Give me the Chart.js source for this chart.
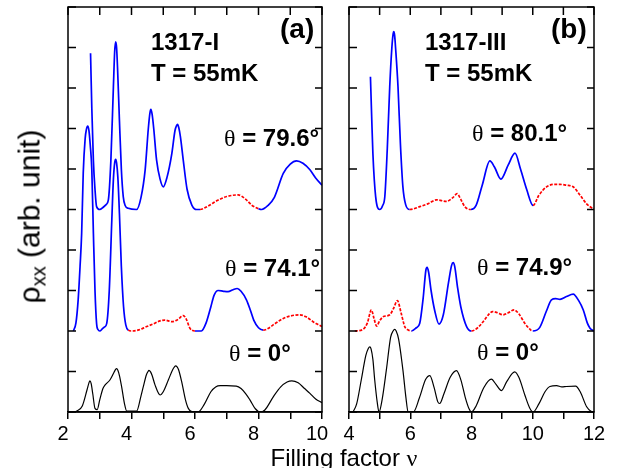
<!DOCTYPE html>
<html>
<head>
<meta charset="utf-8">
<script src="https://cdn.jsdelivr.net/npm/chart.js@4/dist/chart.umd.min.js"></script>
<style>
  body { margin: 0; background: #fff; }
  #wrap { position: relative; width: 618px; height: 468px; overflow: hidden; background: #fff; }
  canvas { position: absolute; top: 0; }
  .lbl { position: absolute; white-space: nowrap; font-family: "Liberation Sans", Arial, sans-serif; color: #000; line-height: 1; }
  .b { font-weight: bold; }
  .th { font-family: "Liberation Serif", "Times New Roman", serif; font-weight: normal; }
</style>
</head>
<body>
<div id="wrap">
  <canvas id="panelA" width="340" height="468" style="left:0"></canvas>
  <canvas id="panelB" width="298" height="468" style="left:320px"></canvas>
</div>
<script>
// panel (a), sample 1317-I
const nuA0 = [2.17, 2.27, 2.45, 2.6, 2.66, 2.69, 2.73, 2.78, 2.85, 2.92, 3.0, 3.1, 3.17, 3.32, 3.45, 3.5, 3.53, 3.57, 3.62, 3.69, 3.78, 3.85, 4.16, 4.3, 4.37, 4.47, 4.52, 4.55, 4.6, 4.65, 4.74, 4.9, 5.0, 5.16, 5.3, 5.36, 5.39, 5.43, 5.48, 5.58, 5.7, 5.79, 5.95, 6.1, 6.3, 6.5, 6.65, 6.8, 7.0, 7.3, 7.45, 7.6, 7.73, 7.9, 8.05, 8.2, 8.47, 8.7, 8.9, 9.05, 9.25, 9.45, 9.62, 9.8, 10.0];
const rhoA0 = [0, 0.02, 0.15, 0.55, 0.72, 0.77, 0.7, 0.45, 0.09, 0.06, 0.3, 0.58, 0.67, 0.79, 0.98, 1.05, 1.07, 1.03, 0.9, 0.62, 0.2, 0.02, 0.02, 0.4, 0.62, 0.92, 1.0, 1.03, 0.99, 0.9, 0.67, 0.42, 0.5, 0.79, 1.05, 1.12, 1.14, 1.12, 1.05, 0.75, 0.3, 0.09, 0, 0, 0.2, 0.5, 0.62, 0.65, 0.65, 0.64, 0.58, 0.45, 0.3, 0.08, 0, 0.05, 0.38, 0.62, 0.74, 0.77, 0.72, 0.58, 0.46, 0.32, 0.23];

const nuA74 = [2.17, 2.25, 2.32, 2.38, 2.43, 2.48, 2.54, 2.58, 2.62, 2.66, 2.7, 2.75, 2.8, 2.85, 2.9, 2.95, 3.0, 3.08, 3.15, 3.22, 3.3, 3.38, 3.43, 3.47, 3.5, 3.53, 3.57, 3.62, 3.68, 3.75, 3.82, 3.9, 4.0, 4.2, 4.48, 4.7, 4.9, 5.05, 5.27, 5.45, 5.63, 5.72, 5.84, 6.0, 6.2, 6.35, 6.5, 6.6, 6.73, 6.9, 7.04, 7.2, 7.33, 7.45, 7.62, 7.75, 7.85, 8.0, 8.15, 8.25, 8.5, 8.78, 9.0, 9.3, 9.5, 9.72, 9.85, 10.0];
const rhoA74 = [2.0, 2.2, 2.77, 3.6, 4.41, 5.9, 6.75, 6.98, 7.06, 6.95, 6.6, 5.98, 4.41, 3.0, 2.19, 2.03, 2.0, 2.05, 2.1, 2.19, 3.0, 4.74, 5.75, 6.15, 6.24, 6.15, 5.8, 4.9, 3.6, 2.6, 2.15, 2.02, 2.0, 2.02, 2.11, 2.18, 2.25, 2.27, 2.23, 2.28, 2.38, 2.3, 2.07, 2.0, 2.0, 2.2, 2.6, 2.88, 3.0, 2.98, 2.97, 3.02, 3.05, 2.98, 2.77, 2.5, 2.27, 2.08, 2.02, 2.04, 2.17, 2.31, 2.37, 2.4, 2.35, 2.23, 2.17, 2.11];
const redA74 = [[3.95, 6.05], [8.2, 10.0]];

const nuA79 = [2.71, 2.75, 2.8, 2.85, 2.9, 3.0, 3.1, 3.2, 3.27, 3.35, 3.43, 3.47, 3.5, 3.53, 3.56, 3.62, 3.68, 3.74, 3.8, 3.9, 4.16, 4.3, 4.43, 4.53, 4.58, 4.61, 4.65, 4.7, 4.79, 4.9, 5.0, 5.12, 5.27, 5.37, 5.42, 5.45, 5.49, 5.54, 5.63, 5.75, 5.9, 6.05, 6.16, 6.4, 6.7, 7.0, 7.36, 7.6, 7.8, 8.0, 8.1, 8.3, 8.5, 8.78, 9.0, 9.2, 9.4, 9.62, 9.8, 10.0];
const rhoA79 = [8.86, 7.5, 6.2, 5.5, 5.07, 5.0, 5.05, 5.12, 5.23, 6.2, 8.03, 8.9, 9.14, 9.0, 8.5, 7.2, 6.0, 5.32, 5.1, 5.03, 5.0, 5.3, 5.98, 7.0, 7.38, 7.47, 7.35, 7.0, 6.22, 5.75, 5.56, 5.8, 6.38, 6.95, 7.07, 7.1, 7.02, 6.8, 6.22, 5.5, 5.11, 5.0, 5.0, 5.08, 5.22, 5.32, 5.36, 5.25, 5.1, 5.02, 5.0, 5.1, 5.3, 5.89, 6.12, 6.2, 6.14, 5.98, 5.78, 5.6];
const redA79 = [[6.12, 8.04]];

// panel (b), sample 1317-III
const nuB0 = [4.13, 4.25, 4.4, 4.55, 4.63, 4.68, 4.72, 4.78, 4.84, 4.92, 4.98, 5.08, 5.22, 5.36, 5.44, 5.49, 5.54, 5.62, 5.76, 5.86, 5.93, 6.1, 6.3, 6.5, 6.64, 6.78, 6.9, 6.96, 7.1, 7.3, 7.51, 7.65, 7.8, 7.92, 8.0, 8.15, 8.4, 8.65, 8.8, 8.98, 9.15, 9.41, 9.55, 9.75, 9.9, 10.01, 10.2, 10.4, 10.56, 10.78, 10.95, 11.1, 11.4, 11.55, 11.76, 11.9, 12.0];
const rhoB0 = [0, 0.2, 0.79, 1.4, 1.57, 1.61, 1.56, 1.3, 0.79, 0.25, 0, 0.3, 1.04, 1.85, 2.0, 2.04, 2.0, 1.8, 1.04, 0.35, 0, 0, 0.35, 0.8, 0.9, 0.6, 0.25, 0.21, 0.45, 0.85, 1.02, 0.8, 0.35, 0.08, 0, 0.15, 0.6, 0.81, 0.68, 0.53, 0.75, 0.99, 0.85, 0.4, 0.1, 0, 0.2, 0.5, 0.63, 0.65, 0.62, 0.63, 0.64, 0.5, 0.13, 0.02, 0];

const nuB74 = [4.19, 4.46, 4.6, 4.73, 4.82, 4.9, 5.0, 5.11, 5.33, 5.45, 5.58, 5.7, 5.82, 5.95, 6.04, 6.2, 6.31, 6.42, 6.51, 6.55, 6.6, 6.68, 6.8, 6.94, 7.08, 7.25, 7.35, 7.4, 7.45, 7.55, 7.65, 7.84, 8.0, 8.2, 8.38, 8.55, 8.69, 8.85, 9.03, 9.2, 9.39, 9.55, 9.74, 9.9, 10.0, 10.23, 10.45, 10.61, 10.75, 10.89, 11.1, 11.32, 11.5, 11.65, 11.78, 11.87, 12.0];
const rhoB74 = [2.0, 2.04, 2.2, 2.52, 2.3, 2.12, 2.25, 2.35, 2.4, 2.55, 2.75, 2.45, 2.11, 2.02, 2.0, 2.08, 2.19, 2.8, 3.5, 3.57, 3.45, 3.0, 2.5, 2.17, 2.4, 3.2, 3.62, 3.69, 3.6, 3.05, 2.6, 2.11, 2.0, 2.08, 2.23, 2.4, 2.48, 2.45, 2.4, 2.45, 2.52, 2.42, 2.19, 2.05, 2.0, 2.09, 2.5, 2.77, 2.8, 2.78, 2.85, 2.91, 2.75, 2.52, 2.2, 2.07, 2.0];
const redB74 = [[4.1, 6.05], [8.0, 10.0]];

const nuB80 = [4.7, 4.74, 4.78, 4.87, 5.0, 5.1, 5.17, 5.25, 5.33, 5.4, 5.44, 5.46, 5.49, 5.52, 5.6, 5.68, 5.76, 5.85, 5.98, 6.31, 6.6, 6.86, 7.18, 7.4, 7.53, 7.65, 7.78, 7.98, 8.15, 8.35, 8.6, 8.75, 8.96, 9.2, 9.42, 9.6, 9.8, 10.01, 10.2, 10.45, 10.7, 10.89, 11.1, 11.32, 11.55, 11.76, 12.0];
const rhoB80 = [8.28, 7.3, 6.39, 5.32, 5.0, 5.1, 5.32, 6.5, 8.03, 9.0, 9.33, 9.39, 9.3, 9.0, 8.03, 6.6, 5.56, 5.12, 5.0, 5.07, 5.15, 5.24, 5.2, 5.3, 5.39, 5.25, 5.07, 5.0, 5.1, 5.6, 6.2, 6.05, 5.75, 6.1, 6.39, 6.0, 5.5, 5.1, 5.35, 5.56, 5.62, 5.62, 5.6, 5.56, 5.35, 5.14, 5.0];
const redB80 = [[5.98, 7.98], [10.0, 12.0]];

const xTicksA = [2, 4, 6, 8, 10];
const xTicksB = [4, 6, 8, 10, 12];

const BLUE = '#0000ff', RED = '#ff0000';

function pts(nu, rho) {
  return nu.map((v, i) => ({x: v, y: rho[i]}));
}

function inRed(ranges, ctx) {
  const mid = (ctx.p0.parsed.x + ctx.p1.parsed.x) / 2;
  return ranges.some(r => mid >= r[0] && mid <= r[1]);
}

function blackCurve(nu, rho) {
  return {data: pts(nu, rho), borderColor: '#000', borderWidth: 1.2, pointRadius: 0, cubicInterpolationMode: 'monotone'};
}

function tiltedCurve(nu, rho, ranges) {
  return {
    data: pts(nu, rho),
    borderColor: BLUE,
    borderWidth: 1.7,
    pointRadius: 0,
    cubicInterpolationMode: 'monotone',
    segment: {
      borderColor: ctx => inRed(ranges, ctx) ? RED : BLUE,
      borderDash: ctx => inRed(ranges, ctx) ? [3, 1.5] : []
    }
  };
}

// frame with inward ticks on left, right and top
const frameTicks = {
  id: 'frameTicks',
  afterDatasetsDraw(chart) {
    const {ctx, chartArea: a, scales: {x, y}} = chart;
    ctx.save();
    ctx.strokeStyle = '#000';
    ctx.lineWidth = 1.5;
    ctx.strokeRect(a.left, a.top, a.right - a.left, a.bottom - a.top);
    ctx.beginPath();
    for (let v = y.min; v <= y.max; v++) {
      const p = y.getPixelForValue(v);
      ctx.moveTo(a.left, p); ctx.lineTo(a.left + 8, p);
      ctx.moveTo(a.right, p); ctx.lineTo(a.right - 7, p);
    }
    for (let v = x.min; v <= x.max; v++) {
      const p = x.getPixelForValue(v);
      ctx.moveTo(p, a.top); ctx.lineTo(p, a.top + 8);
    }
    ctx.stroke();
    ctx.restore();
  }
};

function makePanel(id, xMin, xMax, labels, datasets, padL, padR, labelShift) {
  return new Chart(document.getElementById(id), {
    type: 'line',
    data: {datasets: datasets},
    options: {
      responsive: false,
      animation: false,
      devicePixelRatio: 1,
      layout: {padding: {left: padL, right: padR, top: 7, bottom: 0}},
      plugins: {legend: {display: false}, tooltip: {enabled: false}},
      scales: {
        x: {
          type: 'linear',
          min: xMin,
          max: xMax,
          afterFit: s => { s.height = 56; },
          border: {display: true, color: '#000', width: 1.5},
          grid: {drawOnChartArea: false, drawTicks: true, tickLength: 7, color: '#000', lineWidth: 1.5},
          ticks: {
            stepSize: 1,
            autoSkip: false,
            maxRotation: 0,
            padding: 3,
            labelOffset: labelShift,
            color: '#000',
            font: {family: '"Liberation Sans", Arial, sans-serif', size: 20},
            callback: v => labels.includes(v) ? String(v) : ''
          }
        },
        y: {min: 0, max: 10, display: false}
      }
    },
    plugins: [frameTicks]
  });
}

makePanel('panelA', 2, 10, xTicksA, [
  blackCurve(nuA0, rhoA0),
  tiltedCurve(nuA74, rhoA74, redA74),
  tiltedCurve(nuA79, rhoA79, redA79)
], 68, 18, -5);

makePanel('panelB', 4, 12, xTicksB, [
  blackCurve(nuB0, rhoB0),
  tiltedCurve(nuB74, rhoB74, redB74),
  tiltedCurve(nuB80, rhoB80, redB80)
], 29, 24, 0);

// text labels
const wrap = document.getElementById('wrap');
function addLabel(html, left, baseline, size, cls) {
  const d = document.createElement('div');
  d.className = 'lbl ' + (cls || '');
  d.style.fontSize = size + 'px';
  d.style.left = left + 'px';
  d.style.top = (baseline - 0.8465 * size) + 'px';
  d.innerHTML = html;
  wrap.appendChild(d);
}
const th = v => '<span class="th">θ</span> = ' + v + '°';

addLabel('1317-I', 151, 50, 24, 'b');
addLabel('T = 55mK', 151, 81.5, 24, 'b');
addLabel('(a)', 280, 39, 28, 'b');
addLabel(th('79.6'), 224, 146.5, 24, 'b');
addLabel(th('74.1'), 225, 276, 24, 'b');
addLabel(th('0'), 229, 361.5, 24, 'b');

addLabel('1317-III', 425, 50, 24, 'b');
addLabel('T = 55mK', 425, 81.5, 24, 'b');
addLabel('(b)', 551, 39, 28, 'b');
addLabel(th('80.1'), 472, 141.5, 24, 'b');
addLabel(th('74.9'), 477, 275, 24, 'b');
addLabel(th('0'), 477, 360, 24, 'b');

// axis titles
const xt = document.createElement('div');
xt.className = 'lbl';
xt.style.cssText = 'font-size:24px;left:244px;width:200px;text-align:center;top:' + (466 - 0.8465 * 24) + 'px';
xt.innerHTML = 'Filling factor <span class="th">ν</span>';
wrap.appendChild(xt);

const yt = document.createElement('div');
yt.className = 'lbl';
yt.style.cssText = 'font-size:30px;line-height:30px;width:240px;text-align:center;left:-88.7px;top:200px;transform:rotate(-90deg);transform-origin:center;';
yt.innerHTML = 'ρ<span style="font-size:20px;position:relative;top:6px">xx</span> (arb. unit)';
wrap.appendChild(yt);
</script>
</body>
</html>
